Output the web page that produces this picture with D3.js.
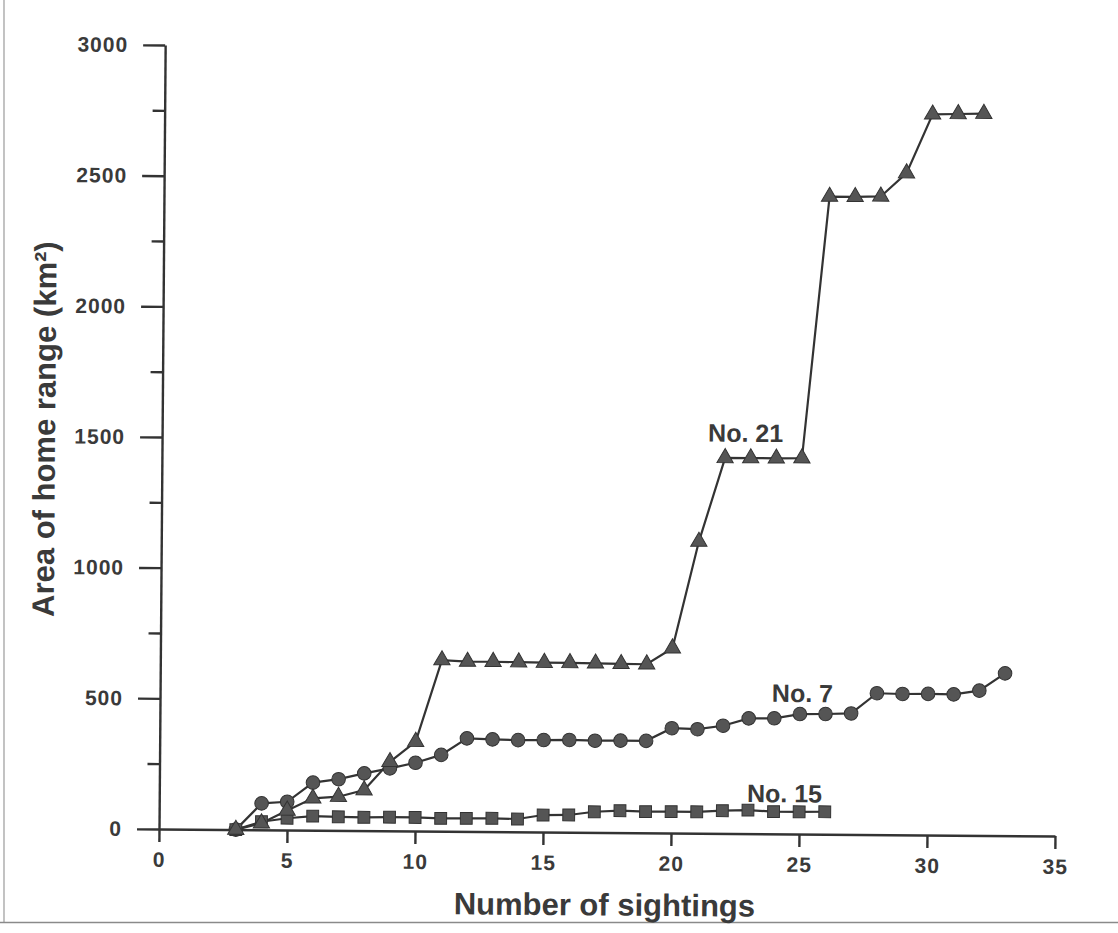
<!DOCTYPE html>
<meta charset="utf-8">
<title>Area of home range vs number of sightings</title>
<style>
  body { margin: 0; background: #fff; }
  svg { display: block; }
  .tick text { font-family: "Liberation Sans", Arial, sans-serif; font-weight: bold; font-size: 21px; fill: #3a3a3a; letter-spacing: 1px; }
  .axis path, .axis line { stroke: #333; stroke-width: 2.4; }
  .title { font-family: "Liberation Sans", Arial, sans-serif; font-weight: bold; font-size: 31px; fill: #3a3a3a; }
  .lbl { font-family: "Liberation Sans", Arial, sans-serif; font-weight: bold; font-size: 25px; fill: #3a3a3a; }
</style>
<body>
<script src="https://d3js.org/d3.v7.min.js"></script>
<script>

// sightings (x) shared by all three animals
var sightings = [3,4,5,6,7,8,9,10,11,12,13,14,15,16,17,18,19,20,21,22,23,24,25,26,27,28,29,30,31,32,33];

// area of home range, km2, starting at 3 sightings
var no21 = [0,25,75,122,129,155,264,342,655,650,650,649,648,648,647,646,645,707,1116,1437,1437,1437,1438,2440,2440,2442,2532,2758,2760,2762];
var no7  = [0,101,108,182,196,219,239,261,292,356,353,351,352,353,351,352,352,401,398,412,441,442,459,460,463,541,539,540,539,554,621];
var no15 = [0,31,45,54,52,51,52,52,49,50,51,49,65,66,79,84,81,82,82,87,90,85,85,86];

var xTicks = [0,5,10,15,20,25,30,35];
var yTicks = [0,500,1000,1500,2000,2500,3000];
var yMinor = [250,750,1250,1750,2250,2750];

var labelText = ["No. 21", "No. 7", "No. 15"];
var labelAt = [[21.33,1499],[23.9,505],[22.96,121]];

var W = 1118, H = 933;

var svg = d3.select("body").append("svg")
    .attr("width", W)
    .attr("height", H);

// page edges of the scan
svg.append("line").attr("x1", 4).attr("x2", 4).attr("y1", 0).attr("y2", 922)
    .attr("stroke", "#9a9a9a").attr("stroke-width", 1.2);
svg.append("line").attr("x1", 0).attr("x2", W).attr("y1", 922.5).attr("y2", 922.5)
    .attr("stroke", "#8a8a8a").attr("stroke-width", 1.5);

// the scan is a little rotated, so the whole chart is too
var g = svg.append("g").attr("transform", "rotate(0.45,159,829)");

var x = d3.scaleLinear().domain([0, 35]).range([159, 1055]);
var y = d3.scaleLinear().domain([0, 3000]).range([829, 45]);

// minor y ticks
g.append("g").attr("class", "axis")
    .attr("transform", "translate(159,0)")
    .call(d3.axisLeft(y).tickValues(yMinor).tickSize(12).tickSizeOuter(0).tickFormat(""))
    .select(".domain").remove();

g.append("g").attr("class", "axis")
    .attr("transform", "translate(159,0)")
    .call(d3.axisLeft(y).tickValues(yTicks).tickSize(22).tickSizeOuter(0).tickPadding(15).tickFormat(d3.format("d")));

g.append("g").attr("class", "axis")
    .attr("transform", "translate(0,829)")
    .call(d3.axisBottom(x).tickValues(xTicks).tickSize(13).tickSizeOuter(0).tickPadding(10).tickFormat(d3.format("d")));

// titles
g.append("text").attr("class", "title")
    .attr("x", x(17.5) - 2).attr("y", 912)
    .attr("text-anchor", "middle")
    .text("Number of sightings");

g.append("text").attr("class", "title")
    .attr("transform", "translate(52,430) rotate(-90)")
    .attr("text-anchor", "middle")
    .text("Area of home range (km²)");

function toPts(vals) {
  return vals.map(function(v, i) { return {s: sightings[i], v: v}; });
}

var line = d3.line().x(function(d) { return x(d.s); }).y(function(d) { return y(d.v); });

var series = [
  {pts: toPts(no7),  sym: d3.symbolCircle,   size: 145},
  {pts: toPts(no15), sym: d3.symbolSquare,   size: 140},
  {pts: toPts(no21), sym: d3.symbolTriangle, size: 115}
];

series.forEach(function(s) {
  g.append("path").datum(s.pts)
      .attr("d", line)
      .attr("fill", "none")
      .attr("stroke", "#333")
      .attr("stroke-width", 2.2);
});

series.forEach(function(s) {
  g.selectAll(null).data(s.pts).enter().append("path")
      .attr("d", d3.symbol().type(s.sym).size(s.size))
      .attr("transform", function(d) { return "translate(" + x(d.s) + "," + y(d.v) + ")"; })
      .attr("fill", "#555")
      .attr("stroke", "#333")
      .attr("stroke-width", 1);
});

labelText.forEach(function(t, i) {
  g.append("text").attr("class", "lbl")
      .attr("x", x(labelAt[i][0]))
      .attr("y", y(labelAt[i][1]))
      .text(t);
});

</script>
</body>
